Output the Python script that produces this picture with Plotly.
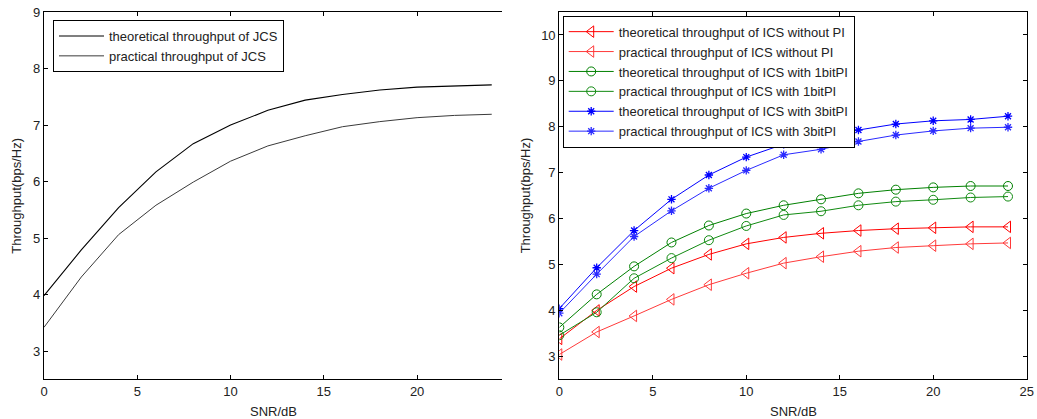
import plotly.graph_objects as go

# SNR grid (dB)
snr = [0, 2, 4, 6, 8, 10, 12, 14, 16, 18, 20, 22, 24]

# JCS throughput (bps/Hz)
jcs_theory = [3.98, 4.79, 5.54, 6.17, 6.67, 7.00, 7.26, 7.44, 7.54, 7.62, 7.67, 7.69, 7.71]
jcs_practice = [3.42, 4.31, 5.06, 5.58, 5.99, 6.36, 6.63, 6.81, 6.97, 7.06, 7.13, 7.17, 7.19]

# ICS throughput (bps/Hz)
ics_nopi_theory = [3.38, 4.00, 4.52, 4.92, 5.22, 5.45, 5.59, 5.68, 5.74, 5.78, 5.80, 5.82, 5.82]
ics_nopi_practice = [3.04, 3.53, 3.88, 4.24, 4.56, 4.81, 5.03, 5.17, 5.29, 5.37, 5.41, 5.45, 5.47]
ics_1bit_theory = [3.63, 4.35, 4.96, 5.48, 5.85, 6.11, 6.29, 6.42, 6.55, 6.63, 6.68, 6.71, 6.71]
ics_1bit_practice = [3.46, 3.96, 4.70, 5.14, 5.53, 5.84, 6.08, 6.16, 6.29, 6.37, 6.41, 6.46, 6.48]
ics_3bit_theory = [4.04, 4.93, 5.74, 6.42, 6.95, 7.34, 7.62, 7.80, 7.93, 8.06, 8.13, 8.16, 8.23]
ics_3bit_practice = [3.94, 4.79, 5.61, 6.17, 6.66, 7.05, 7.39, 7.51, 7.68, 7.82, 7.91, 7.97, 7.99]

W, H = 1037, 419
FONT = "Liberation Sans, Arial, sans-serif"
TXT = "#222222"

fig = go.Figure()

# Left panel: JCS
fig.add_trace(go.Scatter(x=snr, y=jcs_theory, mode="lines", name="theoretical throughput of JCS",
                         line=dict(color="black", width=1.1), xaxis="x", yaxis="y", legend="legend"))
fig.add_trace(go.Scatter(x=snr, y=jcs_practice, mode="lines", name="practical throughput of JCS",
                         line=dict(color="#3a3a3a", width=1), xaxis="x", yaxis="y", legend="legend"))

# Right panel: ICS
ics = [
    ("theoretical throughput of ICS without PI", ics_nopi_theory, "#ff0000", "triangle-left-open", 10),
    ("practical throughput of ICS without PI", ics_nopi_practice, "#ff3a3a", "triangle-left-open", 10),
    ("theoretical throughput of ICS with 1bitPI", ics_1bit_theory, "#008000", "circle-open", 9),
    ("practical throughput of ICS with 1bitPI", ics_1bit_practice, "#108a10", "circle-open", 9),
    ("theoretical throughput of ICS with 3bitPI", ics_3bit_theory, "#0000ff", "asterisk-open", 7),
    ("practical throughput of ICS with 3bitPI", ics_3bit_practice, "#2a2aff", "asterisk-open", 7),
]
for name, vals, color, sym, size in ics:
    lw = 1.3 if sym.startswith("asterisk") else 1
    fig.add_trace(go.Scatter(x=snr, y=vals, mode="lines+markers", name=name,
                             line=dict(color=color, width=1),
                             marker=dict(symbol=sym, size=size, color=color,
                                         line=dict(color=color, width=lw)),
                             xaxis="x2", yaxis="y2", legend="legend2"))

x1 = [44 / W, 502 / W]
x2 = [559.3 / W, 1026.7 / W]
ydom = [1 - 379.3 / H, 1 - 12 / H]

axis_common = dict(showgrid=False, zeroline=False, showline=True, linecolor="black", linewidth=1.2,
                   ticks="inside", ticklen=4, tickcolor="black", tickwidth=1,
                   tickfont=dict(family=FONT, size=13, color=TXT), automargin=False)

legend_common = dict(xanchor="left", yanchor="top", bgcolor="white", bordercolor="black",
                     borderwidth=1, font=dict(family=FONT, size=13, color=TXT),
                     tracegroupgap=0, itemwidth=45)

title_font = dict(family=FONT, size=13, color=TXT)

fig.update_layout(
    width=W, height=H,
    margin=dict(l=0, r=0, t=0, b=0),
    paper_bgcolor="white", plot_bgcolor="white",
    font=dict(family=FONT, size=13, color=TXT),
    showlegend=True,
    xaxis=dict(domain=x1, range=[0, 24.55], tickvals=[0, 5, 10, 15, 20], mirror="ticks",
               anchor="y", **axis_common),
    yaxis=dict(domain=ydom, range=[2.5, 9], tickvals=[3, 4, 5, 6, 7, 8, 9], mirror=False,
               anchor="x", **axis_common),
    xaxis2=dict(domain=x2, range=[0, 25], tickvals=[0, 5, 10, 15, 20, 25], mirror="ticks",
                anchor="y2", **axis_common),
    yaxis2=dict(domain=ydom, range=[2.5, 10.5], tickvals=[3, 4, 5, 6, 7, 8, 9, 10], mirror="ticks",
                anchor="x2", **axis_common),
    legend=dict(x=53 / W, y=1 - 20 / H, **legend_common),
    legend2=dict(x=562.7 / W, y=1 - 15.7 / H, **legend_common),
    annotations=[
        dict(text="SNR/dB", x=(x1[0] + x1[1]) / 2, y=1 - 411 / H, xref="paper", yref="paper",
             xanchor="center", yanchor="middle", showarrow=False, font=title_font),
        dict(text="SNR/dB", x=(x2[0] + x2[1]) / 2, y=1 - 411 / H, xref="paper", yref="paper",
             xanchor="center", yanchor="middle", showarrow=False, font=title_font),
        dict(text="Throughput(bps/Hz)", x=17 / W, y=(ydom[0] + ydom[1]) / 2, xref="paper", yref="paper",
             xanchor="center", yanchor="middle", showarrow=False, textangle=-90, font=title_font),
        dict(text="Throughput(bps/Hz)", x=525.7 / W, y=(ydom[0] + ydom[1]) / 2, xref="paper", yref="paper",
             xanchor="center", yanchor="middle", showarrow=False, textangle=-90, font=title_font),
    ],
)

fig.write_html("out.html")
